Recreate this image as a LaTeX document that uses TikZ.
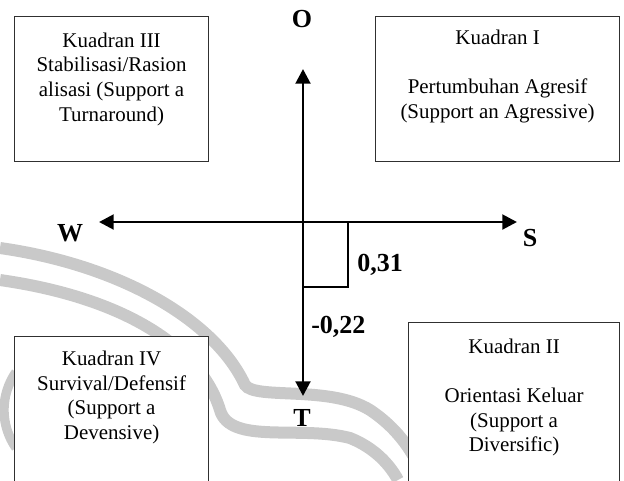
\documentclass[tikz,border=0pt]{standalone}
\usepackage{fontspec}
\setmainfont{Liberation Serif}
\usepackage{tikz}
\usetikzlibrary{arrows.meta,positioning}
\definecolor{markgray}{HTML}{C9C9C9}
\definecolor{boxline}{HTML}{303030}

\tikzset{
  quadbox/.style={draw=boxline, line width=0.9pt, fill=white, anchor=north west, inner sep=0pt},
  quadtext/.style={align=center, inner sep=0pt, font=\fontsize{15.7}{18.4}\selectfont},
  axis/.style={line width=2.2pt},
  axlabel/.style={inner sep=0pt, font=\fontsize{19.5}{22}\selectfont\bfseries},
}

\begin{document}
\begin{tikzpicture}[x=0.75pt, y=-0.75pt]
  \useasboundingbox (0,0) rectangle (624,480);
  \clip (0,0) rectangle (624,480);
  % watermark in the back
  \draw[markgray, line width=9pt] (0,248) .. controls (120,265) and (215,320) .. (245,385)
    .. controls (255,400) and (330,385) .. (370,410) .. controls (400,430) and (415,455) .. (425,480);
  \draw[markgray, line width=9pt] (0,280) .. controls (120,297) and (200,345) .. (220,410)
    .. controls (230,445) and (300,425) .. (350,438) .. controls (375,448) and (390,465) .. (398,480);
  \draw[markgray, line width=7pt] (16,372) .. controls (0,395) and (0,425) .. (16,448);
  % quadrant boxes
  \node[quadbox, minimum width=145.5pt, minimum height=108.75pt] (q3) at (14,16) {};
  \node[quadbox, minimum width=183pt, minimum height=108.75pt] (q1) at (375,16) {};
  \node[quadbox, minimum width=145.5pt, minimum height=120pt] (q4) at (14,336) {};
  \node[quadbox, minimum width=158.25pt, minimum height=127.5pt] (q2) at (408,322) {};
  \node[quadtext, below=12.5pt of q3.north] (q3t)
    {Kuadran III\\Stabilisasi/Rasion\\alisasi (Support a\\Turnaround)};
  \node[quadtext, below=10.5pt of q1.north] (q1t)
    {Kuadran I\\[18.4pt]Pertumbuhan Agresif\\(Support an Agressive)};
  \node[quadtext, below=11.25pt of q4.north] (q4t)
    {Kuadran IV\\Survival/Defensif\\(Support a\\Devensive)};
  \node[quadtext, below=12.75pt of q2.north] (q2t)
    {Kuadran II\\[18.4pt]Orientasi Keluar\\(Support a\\Diversific)};
  % axes
  \coordinate (ctr) at (303,222);
  \coordinate (up) at (303,69);
  \coordinate (dn) at (303,396);
  \coordinate (wt) at (99,222);
  \coordinate (et) at (517,222);
  \draw[axis, {Triangle[length=11pt,width=11pt]}-{Triangle[length=11pt,width=11pt]}] (dn) -- (up);
  \draw[axis, {Triangle[length=11pt,width=11pt]}-{Triangle[length=11pt,width=11pt]}] (wt) -- (et);
  \draw[axis] (348,222) -- (348,287) -- (ctr |- 0,287);
  \node[axlabel] (o) at (302,19) {O};
  \node[axlabel] (w) at (70,233) {W};
  \node[axlabel] (s) at (530,238) {S};
  \node[axlabel] (t) at (302,418) {T};
  \node[axlabel, anchor=west] (v31) at (357,265) {0,31};
  \node[axlabel, anchor=west] (v22) at (311,327) {-0,22};
\end{tikzpicture}
\end{document}
